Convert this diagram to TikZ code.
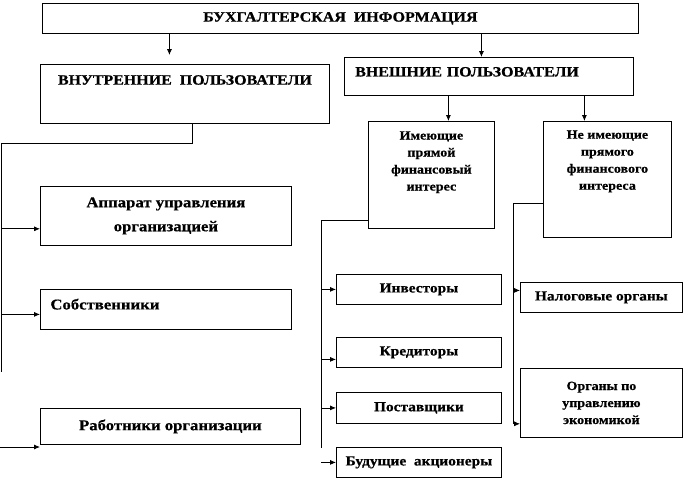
\documentclass[tikz,border=0pt]{standalone}
\usepackage{fontspec}
\setmainfont{Liberation Serif}[FakeStretch=1.12,FakeBold=0.6]
\usetikzlibrary{calc,positioning,arrows,arrows.meta}
\tikzset{%
  >={Latex[length=4.5pt,width=3.8pt]},
  b/.style={draw,rectangle,anchor=north west,inner sep=0pt,align=center,
    font=\bfseries\fontsize{10.7}{12}\selectfont},
  bl/.style={b,font=\bfseries\fontsize{11.2}{18}\selectfont},
  bm/.style={b,font=\bfseries\fontsize{10.3}{12}\selectfont},
  bs/.style={b,font=\bfseries\fontsize{9.4}{12.75}\selectfont},
  line/.style={draw,->}
}
\begin{document}
\begin{tikzpicture}[x=0.75pt,y=-0.75pt,line width=0.6pt]
	\useasboundingbox (0,0) rectangle (688,480);
	\node[b,minimum width=447pt,minimum height=22.5pt] (info) at (42,3) {БУХГАЛТЕРСКАЯ~ ИНФОРМАЦИЯ};
	\node[b,minimum width=216.75pt,minimum height=44.25pt,text depth=21pt] (vnutr) at (40,64) {ВНУТРЕННИЕ~ ПОЛЬЗОВАТЕЛИ};
	\node[b,minimum width=216.75pt,minimum height=28.5pt,text width=200.5pt,align=left,text depth=7pt] (vnesh) at (344,57) {ВНЕШНИЕ ПОЛЬЗОВАТЕЛИ};
	\node[bl,minimum width=188.25pt,minimum height=44.25pt] (apparat) at (40,186) {Аппарат управления\\организацией};
	\node[bl,minimum width=188.25pt,minimum height=30pt,text width=173.25pt,align=left,text depth=8pt] (sobstv) at (40,289) {Собственники};
	\node[bl,minimum width=195pt,minimum height=27pt] (rabot) at (40,408) {Работники организации};
	\node[bs,minimum width=94.5pt,minimum height=80.25pt,text depth=21pt] (imeu) at (368,121) {Имеющие\\прямой\\финансовый\\интерес};
	\node[bs,minimum width=96pt,minimum height=87pt,text depth=29pt] (neimeu) at (543,121) {Не имеющие\\прямого\\финансового\\интереса};
	\node[bm,minimum width=123.75pt,minimum height=22.5pt] (invest) at (336,274) {Инвесторы};
	\node[bm,minimum width=123.75pt,minimum height=22.5pt] (kredit) at (336,337) {Кредиторы};
	\node[bm,minimum width=123.75pt,minimum height=23.25pt] (postav) at (336,392) {Поставщики};
	\node[bm,minimum width=123.75pt,minimum height=22.5pt] (budush) at (336,447) {Будущие~ акционеры};
	\node[bm,minimum width=121.5pt,minimum height=22.5pt] (nalog) at (520,282) {Налоговые органы};
	\node[bs,minimum width=121.5pt,minimum height=51.75pt] (organy) at (520,368) {Органы по\\управлению\\экономикой};
	\coordinate (lt) at (1,143);
	\coordinate (lb) at (1,372);
	\coordinate (rl) at (0,447);
	\coordinate (mb) at (321,448);
	\coordinate (nb) at (513,424);
	\draw[->,shorten >=6.75pt] ([xshift=-11.6pt]vnutr.north |- info.south) -- ([xshift=-11.6pt]vnutr.north);
	\draw[->] ([xshift=-5.6pt]vnesh.north |- info.south) -- ([xshift=-5.6pt]vnesh.north);
	\draw[->] ([xshift=12.75pt]imeu.north |- vnesh.south) -- ([xshift=12.75pt]imeu.north);
	\draw[->] ([xshift=-17.25pt]neimeu.north |- vnesh.south) -- ([xshift=-17.25pt]neimeu.north);
	\draw ([xshift=5.6pt]vnutr.south) |- (lt) -- (lb);
	\draw[->] ([yshift=12.75pt]apparat.south west -| lt) -- ([yshift=12.75pt]apparat.south west);
	\draw[->] ([yshift=-3.75pt]sobstv.west -| lt) -- ([yshift=-3.75pt]sobstv.west);
	\draw[->] (rl) -- (rl -| rabot.west);
	\draw ([yshift=6pt]imeu.south west) -| (mb);
	\draw[->] (mb |- invest.west) -- (invest.west);
	\draw[->] ([yshift=-5.25pt]kredit.west -| mb) -- ([yshift=-5.25pt]kredit.west);
	\draw[->] (mb |- postav.west) -- (postav.west);
	\draw[->] (mb |- budush.west) -- (budush.west);
	\draw ([yshift=25.5pt]neimeu.south west) -| (nb);
	\draw[->] ([yshift=5.25pt]nalog.west -| nb) -- ([yshift=5.25pt]nalog.west);
	\draw[->] ([yshift=10.5pt]organy.south west -| nb) -- ([yshift=10.5pt]organy.south west);
\end{tikzpicture}
\end{document}
